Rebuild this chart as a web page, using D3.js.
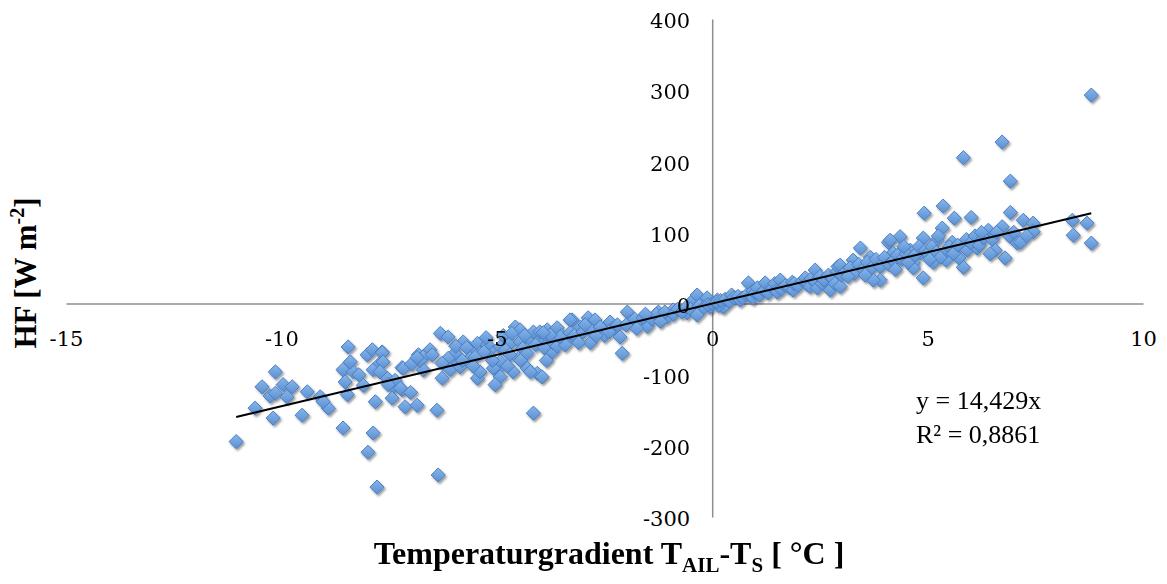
<!DOCTYPE html>
<html>
<head>
<meta charset="utf-8">
<script src="https://cdn.jsdelivr.net/npm/d3@7"></script>
<style>
  html, body { margin: 0; padding: 0; background: #ffffff; }
  svg { display: block; }
</style>
</head>
<body>
<svg id="chart" width="1167" height="584"></svg>
<script>
// Temperature gradient (°C) against heat flux HF (W m-2)
const observations = [
  [-11.05,-194],[-10.61,-147],[-10.45,-117],[-10.14,-96],[-10.19,-161],[-10.26,-130],[-10.14,-126],
  [-9.96,-114],[-9.75,-117],[-9.87,-131],[-9.52,-157],[-9.40,-124],[-9.10,-131],[-8.91,-147],[-9.03,-138],
  [-8.45,-61],[-8.57,-93],[-8.52,-110],[-8.47,-128],[-8.33,-96],[-8.57,-175],[-8.20,-100],[-8.10,-115],[-8.40,-82],
  [-8.01,-72],[-7.89,-65],[-7.66,-68],[-7.87,-93],[-7.71,-84],[-7.82,-138],[-7.87,-182],[-7.99,-209],[-7.78,-258],
  [-7.54,-105],[-7.40,-117],[-7.20,-90],[-7.20,-121],[-7.43,-133],[-7.13,-145],[-6.85,-143],[-6.82,-72],
  [-6.62,-70],[-6.55,-65],[-6.39,-150],[-6.36,-241],[-6.31,-42],[-6.13,-47],[-6.71,-93],[-6.27,-105],
  [-6.01,-79],[-5.78,-54],[-5.62,-65],[-5.45,-56],[-5.45,-105],
  [-7.17,-91],[-7.36,-108],[-7.52,-114],[-7.24,-119],[-7.00,-125],[-6.98,-85],[-6.71,-75],[-6.78,-80],
  [-5.97,-70],[-6.13,-77],[-6.27,-84],[-6.50,-72],[-6.85,-76],[-7.66,-69],[-7.64,-82],[-7.71,-96],
  [-6.08,-93],[-5.85,-89],[-5.62,-77],[-5.39,-70],[-5.15,-65],[-4.92,-61],[-4.69,-56],[-4.46,-54],
  [-4.22,-51],[-3.99,-49],[-3.76,-47],
  [-5.39,-96],[-5.00,-93],[-4.92,-103],[-5.04,-114],[-4.62,-96],[-4.29,-91],[-4.06,-98],[-3.95,-103],
  [-4.57,-33],[-4.15,-154],[-4.22,-96],[-4.50,-77],[-4.92,-82],[-5.08,-91],[-3.76,-68],
  [-5.22,-58],[-4.46,-37],[-4.15,-40],[-3.83,-37],[-3.60,-34],[-3.71,-68],
  [-5.80,-80],[-5.50,-75],[-5.30,-68],[-5.10,-80],[-4.80,-65],[-4.70,-72],[-4.40,-63],[-4.30,-70],
  [-4.10,-58],[-3.90,-62],[-3.70,-55],[-3.50,-45],[-3.40,-52],[-3.60,-60],[-5.95,-60],[-5.70,-62],
  [-4.85,-45],[-4.65,-42],[-4.35,-45],[-4.00,-40],[-5.25,-48],[-5.55,-88],[-4.75,-88],[-4.45,-80],[-3.85,-80],
  [-3.41,-58],[-3.25,-23],[-2.88,-20],[-2.72,-23],[-2.83,-55],[-2.55,-37],[-2.37,-26],[-2.14,-47],
  [-1.97,-12],[-1.90,-26],[-2.09,-70],[-1.67,-27],[-1.51,-32],[-1.25,-12],[-1.04,-19],[-0.91,-9],
  [-0.44,5],[-0.35,12],[-0.12,8],[-0.58,-13],[-0.35,-12],[-0.05,-5],[-3.06,-33],[-3.30,-41],
  [-3.53,-47],[-3.76,-44],[-3.92,-41],[-3.30,-23],
  [-3.20,-45],[-3.00,-40],[-2.80,-38],[-2.60,-33],[-2.50,-45],[-2.30,-35],[-2.20,-30],[-2.00,-30],
  [-1.80,-22],[-1.60,-20],[-1.40,-22],[-1.30,-15],[-1.10,-12],[-0.90,-15],[-0.80,-8],[-0.70,-12],
  [-0.60,-5],[-0.50,-8],[-0.30,-3],[-0.20,-6],[-0.10,-2],[-2.70,-45],[-2.40,-40],[-1.75,-35],
  [-1.20,-25],[-0.35,-16],[-3.10,-55],[-2.95,-30],[-1.55,-15],
  [0.00,0],[0.12,5],[0.26,-5],[0.15,-3],[0.10,2],[0.20,4],[0.30,6],[0.40,3],[0.49,9],[0.45,12],
  [0.50,8],[0.60,10],[0.65,5],[0.70,8],[0.80,12],[0.84,29],[0.90,10],[0.95,8],[0.95,18],[1.00,15],
  [1.05,22],[1.10,12],[1.20,18],[1.23,29],[1.30,15],[1.40,22],[1.45,28],[1.50,18],[1.51,16],[1.58,33],
  [1.60,20],[1.70,25],[1.80,22],[1.86,30],[1.88,19],[1.90,28],[2.00,25],[2.10,32],[2.16,36],[2.20,27],
  [2.21,29],[2.27,24],[2.30,35],[2.39,47],[2.40,30],[2.44,22],[2.50,38],[2.55,28],[2.60,33],[2.70,40],
  [2.74,19],[2.80,35],[2.85,28],[2.90,45],[2.92,52],[2.97,24],[3.00,40],
  [3.44,78],[4.09,86],[4.36,94],[3.27,61],[3.67,65],[3.83,57],[3.97,61],[3.90,33],[3.74,33],[2.97,54],
  [4.13,89],[4.67,57],[4.20,71],[4.60,75],[4.83,71],[4.90,92],[4.92,127],[4.90,36],[4.67,50],
  [3.10,45],[3.20,50],[3.30,42],[3.40,55],[3.50,48],[3.60,58],[3.70,50],[3.80,62],[3.90,52],[4.00,65],
  [4.10,55],[4.20,60],[4.30,68],[4.40,62],[4.50,70],[4.55,58],[4.70,68],[4.80,80],[4.95,75],[3.15,38],
  [3.55,40],[4.25,48],[4.45,80],
  [8.80,293],[6.73,227],[5.83,205],[6.92,172],[5.36,137],[5.62,120],[6.01,121],[6.92,128],[7.22,117],
  [7.45,113],[7.45,101],[8.36,117],[8.70,113],[8.38,96],[8.80,85],[6.41,103],[6.73,108],[7.08,85],
  [7.15,86],[6.57,75],[6.80,64],[5.34,106],[5.22,89],[5.57,86],[5.83,51],[5.13,58],[5.43,61],[5.73,64],
  [5.92,75],[6.15,78],
  [5.00,70],[5.10,80],[5.20,72],[5.30,65],[5.45,75],[5.50,80],[5.60,70],[5.70,82],[5.90,90],[6.00,85],
  [6.10,95],[6.20,82],[6.30,92],[6.50,90],[6.60,100],[6.90,95],[7.00,100],[5.05,62],[5.25,95],[6.45,70],
  [7.30,95],[6.25,100]
];

const xTicks = [-15, -10, -5, 0, 5, 10];
const yTicks = [-300, -200, -100, 0, 100, 200, 300, 400];
const trendSlope = 14.429;
const equationLines = ["y = 14,429x", "R² = 0,8861"];

const svg = d3.select("#chart");
const W = 1167, H = 584;
svg.append("rect").attr("width", W).attr("height", H).attr("fill", "#ffffff");

const x = d3.scaleLinear().domain([-15, 10]).range([66, 1143]);
const y = d3.scaleLinear().domain([-300, 400]).range([517, 19]);
const plainNumber = d => String(d);   // ASCII hyphen for negatives

// Marker styling: gradient fill plus a soft drop shadow
const defs = svg.append("defs");
const grad = defs.append("linearGradient").attr("id", "markerFill")
  .attr("x1", "0").attr("y1", "0").attr("x2", "0").attr("y2", "1");
grad.append("stop").attr("offset", "0%").attr("stop-color", "#86b6ea");
grad.append("stop").attr("offset", "100%").attr("stop-color", "#5b8fd3");
const shadow = defs.append("filter").attr("id", "markerShadow")
  .attr("x", "-50%").attr("y", "-50%").attr("width", "200%").attr("height", "200%");
shadow.append("feDropShadow").attr("dx", 1.5).attr("dy", 2).attr("stdDeviation", 1.2)
  .attr("flood-color", "#000").attr("flood-opacity", 0.4);

// Axis lines crossing at the origin (drawn beneath the markers)
const xLine = svg.append("g")
  .attr("transform", `translate(0,${y(0)})`)
  .call(d3.axisBottom(x).tickValues([]).tickSize(0).tickSizeOuter(0));
const yLine = svg.append("g")
  .attr("transform", `translate(${x(0)},0)`)
  .call(d3.axisLeft(y).tickValues([]).tickSize(0).tickSizeOuter(0));
[xLine, yLine].forEach(g => g.select(".domain").attr("stroke", "#8e8e8e").attr("stroke-width", 1.5));

// Scatter markers
const diamond = d3.symbol().type(d3.symbolDiamond2).size(128);
svg.append("g").attr("filter", "url(#markerShadow)")
  .selectAll("path").data(observations).join("path")
  .attr("d", diamond)
  .attr("transform", d => `translate(${x(d[0])},${y(d[1])})`)
  .attr("fill", "url(#markerFill)")
  .attr("stroke", "#4a7dbf")
  .attr("stroke-width", 1);

// Linear trend through the origin
const xr = d3.extent(observations, d => d[0]);
svg.append("line")
  .attr("x1", x(xr[0])).attr("y1", y(trendSlope * xr[0]))
  .attr("x2", x(xr[1])).attr("y2", y(trendSlope * xr[1]))
  .attr("stroke", "#000").attr("stroke-width", 2);

// Tick labels (on top of the markers)
const xLabels = svg.append("g")
  .attr("transform", `translate(0,${y(0)})`)
  .call(d3.axisBottom(x).tickValues(xTicks).tickSize(0).tickFormat(plainNumber));
const yLabels = svg.append("g")
  .attr("transform", `translate(${x(0)},0)`)
  .call(d3.axisLeft(y).tickValues(yTicks).tickSize(0).tickFormat(plainNumber));
[xLabels, yLabels].forEach(g => {
  g.select(".domain").remove();
  g.attr("font-family", "'DejaVu Serif', serif").attr("font-size", 21);
  g.selectAll("text").attr("fill", "#000");
});
xLabels.selectAll("text").attr("y", 42).attr("dy", 0);
yLabels.selectAll("text").attr("x", -22).attr("dy", "0.42em");

// Regression label
const eq = svg.append("text").attr("font-family", "'Liberation Serif', 'Times New Roman', serif")
  .attr("font-size", 26).attr("fill", "#000");
equationLines.forEach((s, i) => {
  eq.append("tspan").attr("x", 916).attr("y", 409 + i * 34).text(s);
});

// Axis titles
const titleFont = "'Liberation Serif', 'Times New Roman', serif";
const xt = svg.append("text").attr("x", 609).attr("y", 564).attr("text-anchor", "middle")
  .attr("font-family", titleFont).attr("font-weight", "bold").attr("font-size", 32).attr("fill", "#000");
xt.append("tspan").text("Temperaturgradient T");
xt.append("tspan").attr("font-size", 21).attr("dy", 8).text("AIL");
xt.append("tspan").attr("dy", -8).text("-T");
xt.append("tspan").attr("font-size", 21).attr("dy", 8).text("S");
xt.append("tspan").attr("dy", -8).text(" [ °C ]");

const yt = svg.append("text").attr("transform", "translate(36,273) rotate(-90)")
  .attr("text-anchor", "middle")
  .attr("font-family", titleFont).attr("font-weight", "bold").attr("font-size", 31).attr("fill", "#000");
yt.append("tspan").text("HF [W m");
yt.append("tspan").attr("font-size", 20).attr("dy", -12).text("-2");
yt.append("tspan").attr("dy", 12).text("]");
</script>
</body>
</html>
